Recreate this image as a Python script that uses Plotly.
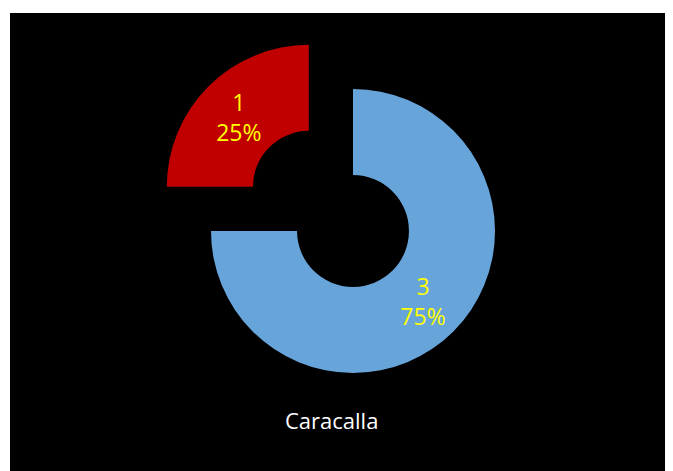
import plotly.graph_objects as go

labels = ["3", "1"]
values = [3, 1]
colors = ["#67A4DA", "#C00000"]
pulls = [0, 0.44]
title_text = "Caracalla"

OFF = 8  # default page body margin
W, H = 673 - OFF, 471 - OFF
L, R, T, B = 10 - OFF, 8, 13 - OFF, 0
pw, ph = W - L - R, H - T - B

# target geometry in page pixels
cx, cy, r = 353 - OFF, 231 - OFF, 142
half = r * (1 + max(pulls))
dx = [(cx - half - L) / pw, (cx + half - L) / pw]
dy = [(H - B - cy - half) / ph, (H - B - cy + half) / ph]

fig = go.Figure(go.Pie(
    labels=labels, values=values, sort=False, direction="clockwise", rotation=0,
    hole=0.394, pull=pulls,
    marker=dict(colors=colors, line=dict(width=0)),
    texttemplate="%{value}<br>%{percent:.0%}", textposition="inside",
    insidetextorientation="horizontal",
    textfont=dict(family="Open Sans", size=23, color="#FFFF00"),
    domain=dict(x=dx, y=dy), showlegend=False, hoverinfo="skip",
))

fig.add_shape(type="rect", xref="paper", yref="paper", x0=0, x1=1, y0=0, y1=1,
              fillcolor="black", line=dict(width=0), layer="below")
fig.add_annotation(text=title_text, xref="paper", yref="paper",
                   x=(331 - OFF - L) / pw, y=(H - B - (420 - OFF)) / ph,
                   xanchor="center", yanchor="middle", showarrow=False,
                   font=dict(family="Open Sans", size=22, color="white"))

fig.update_layout(width=W, height=H, margin=dict(l=L, r=R, t=T, b=B),
                  paper_bgcolor="white", plot_bgcolor="black")
fig.write_html("out.html")
